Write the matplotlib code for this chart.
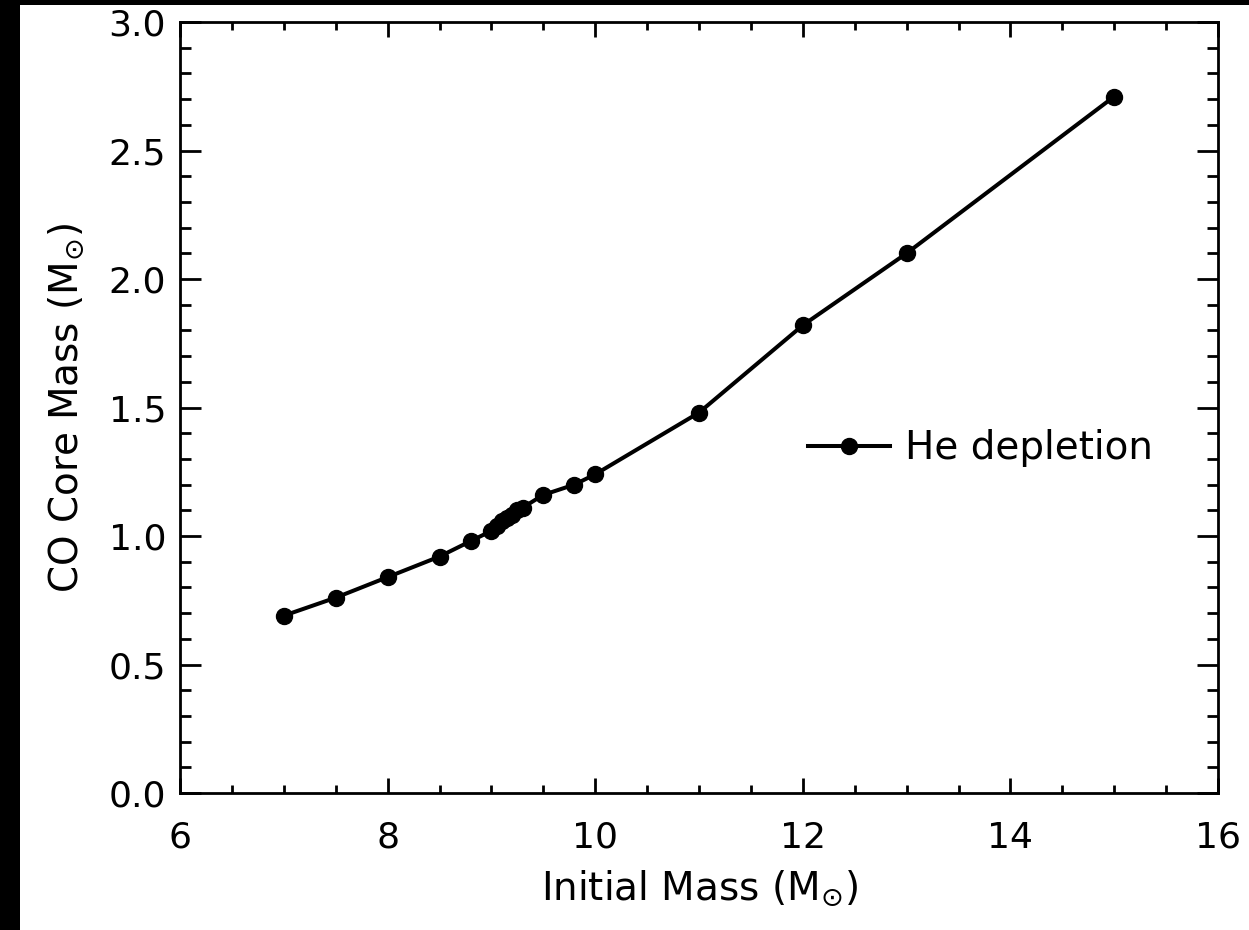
import matplotlib
matplotlib.use("Agg")
import matplotlib.pyplot as plt
from matplotlib.patches import Rectangle
from matplotlib.ticker import MultipleLocator, FormatStrFormatter

# Initial stellar mass (Msun) and CO core mass at He depletion (Msun)
initial_mass = [7.0, 7.5, 8.0, 8.5, 8.8, 9.0, 9.05, 9.1, 9.15, 9.2, 9.25, 9.3,
                9.5, 9.8, 10.0, 11.0, 12.0, 13.0, 15.0]
co_core_mass = [0.69, 0.76, 0.84, 0.92, 0.98, 1.02, 1.04, 1.06, 1.07, 1.08,
                1.10, 1.11, 1.16, 1.20, 1.24, 1.48, 1.82, 2.10, 2.71]
series_label = "He depletion"

plt.rcParams["font.family"] = ["DejaVu Sans"]
plt.rcParams["mathtext.fontset"] = "dejavusans"

fig = plt.figure(figsize=(12.49, 9.30), dpi=100, facecolor="black")
fig.patches.append(Rectangle((20 / 1249, 0), 1 - 20 / 1249, 1 - 5 / 930,
                             transform=fig.transFigure, facecolor="white",
                             edgecolor="none", zorder=-10))

ax = fig.add_axes([180 / 1249, 1 - 793 / 930, (1218 - 180) / 1249, (793 - 22) / 930])
ax.set_facecolor("white")

ax.plot(initial_mass, co_core_mass, color="black", lw=2.9, marker="o",
        markersize=11.5, label=series_label)

ax.set_xlim(6, 16)
ax.set_ylim(0, 3.0)
ax.xaxis.set_major_locator(MultipleLocator(2))
ax.xaxis.set_minor_locator(MultipleLocator(0.5))
ax.yaxis.set_major_locator(MultipleLocator(0.5))
ax.yaxis.set_minor_locator(MultipleLocator(0.1))
ax.xaxis.set_major_formatter(FormatStrFormatter("%d"))
ax.yaxis.set_major_formatter(FormatStrFormatter("%.1f"))

for side in ax.spines.values():
    side.set_linewidth(2.0)

ax.tick_params(axis="both", which="both", direction="in", top=True, right=True,
               labelsize=26, width=2.0)
ax.tick_params(axis="x", which="major", length=11, pad=20)
ax.tick_params(axis="x", which="minor", length=6)
ax.tick_params(axis="y", which="major", length=15, pad=10)
ax.tick_params(axis="y", which="minor", length=8)

ax.set_xlabel(r"Initial Mass ($\mathrm{M}_{\odot}$)", fontsize=28, labelpad=10)
ax.set_ylabel(r"CO Core Mass ($\mathrm{M}_{\odot}$)", fontsize=28, labelpad=16)

leg = ax.legend(loc="center left", bbox_to_anchor=(0.59, 0.447), frameon=False,
                fontsize=28, handlelength=2.1, handletextpad=0.4,
                borderaxespad=0)

fig.savefig("out.png", dpi=100, facecolor=fig.get_facecolor())
